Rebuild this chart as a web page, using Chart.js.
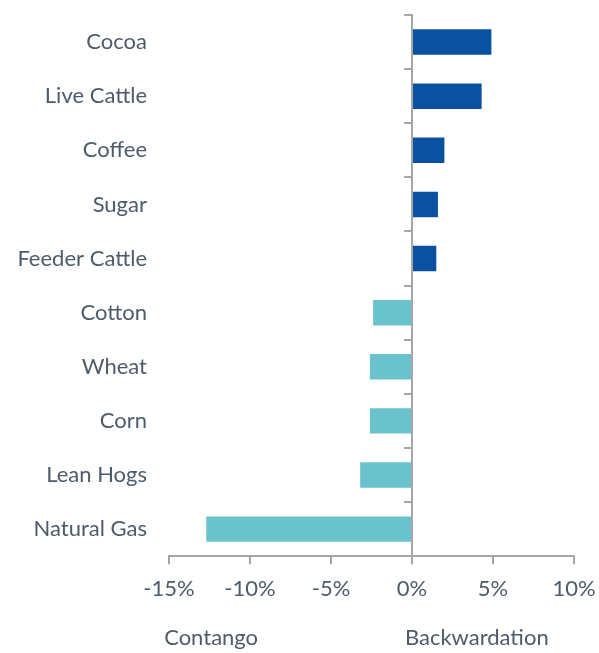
<!DOCTYPE html>
<html>
<head>
<meta charset="utf-8">
<script src="https://cdn.jsdelivr.net/npm/chart.js@4.4.1/dist/chart.umd.min.js"></script>
<style>
  html, body { margin: 0; padding: 0; background: #fff; }
  #wrap { position: relative; width: 599px; height: 653px; }
</style>
</head>
<body>
<div id="wrap"><canvas id="roll"></canvas></div>
<script>
// roll yield by commodity, in percent
const commodities = ['Cocoa', 'Live Cattle', 'Coffee', 'Sugar', 'Feeder Cattle',
  'Cotton', 'Wheat', 'Corn', 'Lean Hogs', 'Natural Gas'];
const rollYield = [4.9, 4.3, 2.0, 1.6, 1.5, -2.4, -2.6, -2.6, -3.2, -12.7];
const xTicks = [-15, -10, -5, 0, 5, 10];
const sideLabels = ['Contango', 'Backwardation'];
const sideLabelAt = [-12.4, 4.0];

const textColor = '#4d5b6b';
const axisGrey = '#a6a6a6';
const font = { family: 'Lato', size: 22 };

// keep the axes from reserving extra room for overhanging labels
const noSidePad = axis => { axis.paddingLeft = 0; axis.paddingRight = 0; };

const ctx = document.getElementById('roll').getContext('2d');
new Chart(ctx, {
  type: 'bar',
  data: {
    labels: commodities,
    datasets: [{
      data: rollYield,
      backgroundColor: rollYield.map(v => v >= 0 ? '#0a52a1' : '#6ac3cc'),
      barPercentage: 0.47,
      categoryPercentage: 1
    }]
  },
  options: {
    indexAxis: 'y',
    responsive: true,
    maintainAspectRatio: false,
    animation: false,
    layout: { padding: { top: 15, right: 25, bottom: 0, left: 0 } },
    plugins: { legend: { display: false }, tooltip: { enabled: false } },
    scales: {
      x: {
        type: 'linear',
        min: xTicks[0],
        max: xTicks[xTicks.length - 1],
        weight: 0,
        afterBuildTicks: axis => { axis.ticks = xTicks.map(v => ({ value: v })); },
        afterFit: noSidePad,
        ticks: { color: textColor, font, padding: 12, callback: v => v + '%' },
        grid: { drawOnChartArea: false, tickLength: 8, color: axisGrey, lineWidth: 2 },
        border: { color: axisGrey, width: 2 }
      },
      x2: {
        type: 'linear',
        position: 'bottom',
        min: xTicks[0],
        max: xTicks[xTicks.length - 1],
        weight: 1,
        afterBuildTicks: axis => { axis.ticks = sideLabelAt.map(v => ({ value: v })); },
        afterFit: noSidePad,
        ticks: { color: textColor, font, padding: 2, callback: (v, i) => sideLabels[i] },
        grid: { display: false },
        border: { display: false }
      },
      y: {
        type: 'category',
        afterFit: axis => { axis.width = 169; axis.paddingTop = 0; axis.paddingBottom = 0; },
        ticks: { color: textColor, font, padding: 14 },
        grid: { display: false },
        border: { display: false }
      },
      // zero line with short marks between categories
      y2: {
        type: 'category',
        position: { x: 0 },
        offset: true,
        afterFit: axis => { axis.paddingTop = 0; axis.paddingBottom = 0; },
        ticks: { display: false },
        grid: { offset: true, drawOnChartArea: false, tickLength: 7, color: axisGrey, lineWidth: 2 },
        border: { color: axisGrey, width: 2 }
      }
    }
  }
});
</script>
</body>
</html>
